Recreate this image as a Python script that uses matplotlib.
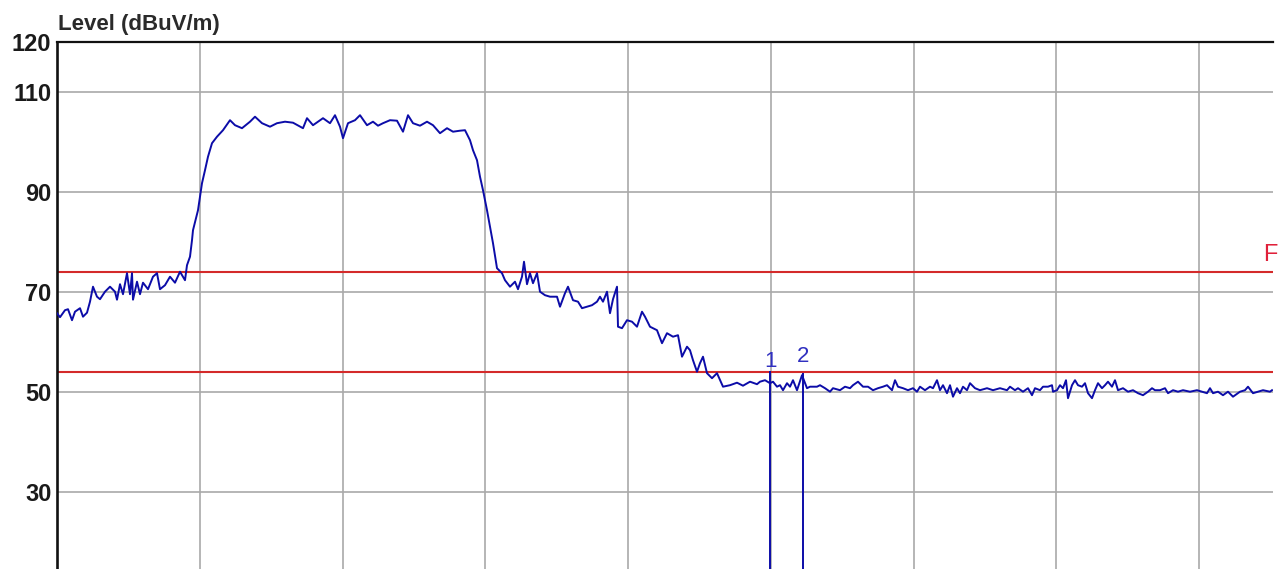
import matplotlib
matplotlib.use("Agg")
import matplotlib.pyplot as plt

# ---- data -------------------------------------------------------------
# sweep position (bins from the left edge of the scan) and level in dBuV/m
trace_x = [0, 3, 8, 11, 15, 18, 23, 26, 30, 33, 36, 40, 43, 48, 53, 58, 60, 63, 66, 70,
           73, 75, 76, 80, 83, 86, 91, 96, 100, 103, 108, 113, 118, 123, 128, 130, 133, 135,
           136, 141, 145, 148, 151, 155, 160, 166, 173, 178, 185, 193, 198, 205, 213, 220,
           228, 236, 246, 250, 256, 266, 273, 278, 283, 286, 291, 298, 303, 310, 316, 321,
           326, 333, 340, 346, 351, 356, 363, 370, 376, 383, 390, 396, 403, 408, 413, 416,
           420, 423, 426, 430, 433, 436,
           440, 445, 448, 453, 458, 461, 465, 467, 470, 473, 476, 480, 483, 488, 493, 500,
           503, 508, 511, 516, 521, 525, 530, 535, 540, 543, 546, 550, 553, 556, 560, 561, 565,
           570, 575, 580, 585, 588, 593, 600, 605, 610, 616, 621, 625, 630, 633, 636, 640, 643,
           646, 650, 655, 660, 666, 673, 680, 686, 693, 700,
           703, 708, 713, 716, 720, 723, 726, 730, 733, 736, 740, 745, 750, 753, 760, 763,
           768, 773, 776, 783, 788, 793, 796, 801, 806, 811, 816, 821, 826, 830, 835, 838,
           841, 846, 851, 856, 860, 863, 868, 873, 876, 880, 883, 886, 890, 893, 896, 900,
           903, 906, 910, 913, 918, 923, 930, 936, 943, 950,
           953, 958, 961, 966, 971, 975, 978, 983, 986, 991, 995, 996, 1000, 1003, 1006, 1009,
           1011, 1015, 1018, 1021, 1025, 1028, 1031, 1035, 1038, 1041, 1045, 1048, 1051, 1055,
           1058, 1061, 1066, 1071, 1076, 1081, 1086, 1091, 1095, 1098, 1103, 1108, 1111, 1116,
           1121, 1126, 1133, 1140, 1145, 1150, 1153, 1156, 1161, 1166, 1171, 1176, 1183, 1188,
           1191, 1196, 1201, 1206, 1213, 1215]
trace_y = [65.7, 64.9, 66.3, 66.5, 64.3, 66.0, 66.7, 65.0, 65.8, 68.0, 71.0, 69.0, 68.5,
           70.0, 71.0, 70.0, 68.4, 71.5, 69.5, 73.7, 69.5, 73.7, 68.4, 72.0, 69.5, 71.8,
           70.5, 73.0, 73.7, 70.5, 71.3, 73.0, 71.8, 74.0, 72.3, 75.3, 77.0, 80.3,
           82.3, 86.3, 91.7, 94.3, 97.0, 99.7, 101.0, 102.3, 104.3, 103.3, 102.7, 104.0,
           105.0, 103.7, 103.0, 103.7, 104.0, 103.8, 102.7, 104.7, 103.3, 104.7, 103.7,
           105.3, 103.0, 100.7, 103.7, 104.3, 105.3, 103.3, 104.0, 103.2, 103.7, 104.3,
           104.2, 102.0, 105.3, 103.7, 103.2, 104.0, 103.3, 101.7, 102.7, 102.0, 102.2,
           102.3, 100.3, 98.3, 96.3, 93.0, 90.3, 86.3, 83.0, 79.7,
           74.7, 73.7, 72.3, 71.0, 72.0, 70.5, 73.0, 76.0, 71.5, 73.7, 71.7, 73.7, 70.0,
           69.3, 69.0, 69.0, 67.0, 69.7, 71.0, 68.3, 68.0, 66.7, 67.0, 67.3, 68.0, 69.0,
           68.0, 70.0, 65.7, 68.5, 71.0, 63.0, 62.7, 64.3, 64.0, 63.0, 66.0, 65.0, 63.0,
           62.3, 59.7, 61.7, 61.0, 61.3, 57.0, 59.0, 58.3, 56.3, 54.0, 55.7, 57.0, 53.7,
           52.7, 53.7, 51.0, 51.3, 51.8, 51.2, 52.0, 51.5,
           52.0, 52.3, 51.7, 52.0, 51.0, 51.3, 50.3, 51.7, 51.0, 52.3, 50.3, 53.3, 50.7,
           51.0, 51.0, 51.3, 50.7, 50.0, 50.7, 50.3, 51.0, 50.7, 51.3, 52.0, 51.0, 51.0,
           50.3, 50.7, 51.0, 51.3, 50.3, 52.3, 51.0, 50.7, 50.3, 50.7, 50.0, 51.0, 50.3,
           51.0, 50.7, 52.3, 50.3, 51.3, 49.7, 51.3, 49.0, 50.7, 49.7, 51.0, 50.3, 51.7,
           50.7, 50.3, 50.7, 50.3, 50.7, 50.3,
           51.0, 50.3, 50.7, 50.0, 50.7, 49.3, 50.7, 50.3, 51.0, 51.0, 51.3, 50.0, 50.3,
           51.3, 50.7, 52.3, 48.7, 51.3, 52.3, 51.3, 51.0, 51.7, 49.7, 48.7, 50.3, 51.7,
           50.7, 51.3, 52.0, 51.0, 52.3, 50.3, 50.7, 50.0, 50.3, 49.7, 49.3, 50.0, 50.7,
           50.3, 50.3, 50.7, 49.7, 50.3, 50.0, 50.3, 50.0, 50.3, 50.0, 49.7, 50.7, 49.7,
           50.0, 49.3, 50.0, 49.0, 50.0, 50.3, 51.0, 49.7, 50.0, 50.3, 50.0, 50.3]

limit_levels = [74, 54]            # red limit lines (dBuV/m)
marker_names = ["1", "2"]
marker_x = [713, 746]              # marker positions (sweep bins)
marker_top = [54.2, 53.8]          # level where each marker line starts
marker_label_y = [54.0, 55.0]      # level of the bottom of each marker label

y_ticks = [30, 50, 70, 90, 110, 120]
y_grid = [30, 50, 70, 90, 110]
n_div_x = 9
div_width = 142.75                 # sweep bins per grid division
y_min, y_max = 14.54, 120
x_max = 1216

# ---- figure -----------------------------------------------------------
W, H = 1279, 569
fig = plt.figure(figsize=(W / 100, H / 100), dpi=100)
fig.patch.set_facecolor("white")
ax_left, ax_right, ax_top = 57, 1273, 41.7
ax = fig.add_axes([ax_left / W, 0, (ax_right - ax_left) / W, 1 - ax_top / H])
ax.set_xlim(0, x_max)
ax.set_ylim(y_min, y_max)

for s in ["right", "bottom"]:
    ax.spines[s].set_visible(False)
ax.spines["left"].set_linewidth(1.9)
ax.spines["top"].set_linewidth(1.6)
ax.spines["left"].set_color("#111111")
ax.spines["top"].set_color("#111111")

grid_c = "#a9a9a9"
for yv in y_grid:
    ax.axhline(yv, color=grid_c, lw=1.2, zorder=1)
for i in range(1, n_div_x):
    ax.axvline(i * div_width, color=grid_c, lw=1.2, zorder=1)

for lv in limit_levels:
    ax.axhline(lv, color="#d42a2a", lw=1.5, zorder=2)

ax.plot(trace_x, trace_y, color="#0c0ca8", lw=1.4, zorder=3)

for name, mx, mt, ly in zip(marker_names, marker_x, marker_top, marker_label_y):
    ax.vlines(mx, y_min, mt, color="#0c0ca8", lw=1.4, zorder=4)
    ax.text(mx, ly, name, color="#3030c0", fontsize=16,
            family="Liberation Sans", ha="center", va="bottom", zorder=5)

ax.set_xticks([])
ax.set_yticks(y_ticks)
ax.set_yticklabels([str(v) for v in y_ticks], fontsize=17, fontweight="bold",
                   family="Liberation Sans", color="#1a1a1a")
ax.tick_params(axis="y", length=0, pad=4)

fig.text(58 / W, 1 - 30 / H, "Level (dBuV/m)", fontsize=16, fontweight="bold",
         family="Liberation Sans", color="#2a2a2a", ha="left", va="baseline")

fig.text(1263 / W, 1 - 255 / H, "F", color="#e0203a", fontsize=17,
         family="Liberation Sans", ha="left", va="center", zorder=5)

fig.savefig("out.png", dpi=100, facecolor="white")
